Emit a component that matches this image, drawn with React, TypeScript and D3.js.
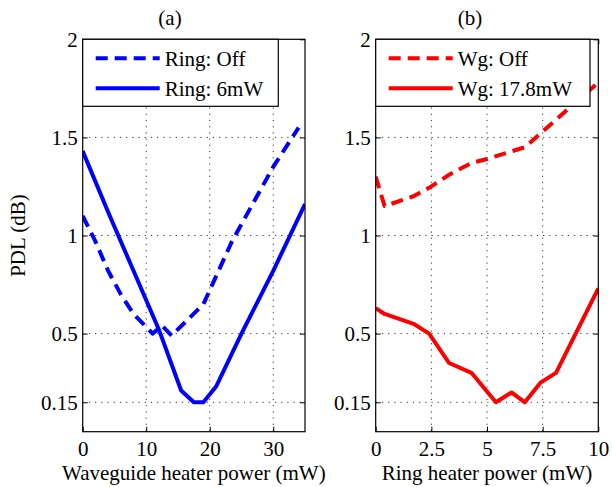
import React, { useEffect, useRef } from "react";
import * as d3 from "d3";

// (a) waveguide heater sweep
const ringOffX = [0, 2, 4, 6, 8, 11, 12.5, 14, 19, 23.5, 30, 34];
const ringOffPDL = [1.1, 0.97, 0.82, 0.7, 0.6, 0.5, 0.54, 0.49, 0.65, 0.97, 1.35, 1.55];
const ringOnX = [0, 4, 8, 12, 15.5, 17.5, 19, 21, 25, 30, 35];
const ringOnPDL = [1.43, 1.12, 0.82, 0.52, 0.21, 0.15, 0.15, 0.23, 0.5, 0.82, 1.16];

// (b) ring heater sweep
const wgOffX = [0, 0.4, 1.7, 2.5, 3.3, 4.3, 5, 6.7, 7.5, 8.7, 10];
const wgOffPDL = [1.3, 1.15, 1.2, 1.25, 1.31, 1.37, 1.39, 1.45, 1.53, 1.65, 1.78];
const wgOnX = [0, 0.4, 1.7, 2.4, 3.3, 4.3, 5.4, 6.1, 6.7, 7.4, 8.1, 10];
const wgOnPDL = [0.63, 0.6, 0.55, 0.5, 0.35, 0.3, 0.15, 0.2, 0.15, 0.25, 0.3, 0.73];

const yTicks = [0.15, 0.5, 1, 1.5, 2];
const xTicksA = [0, 10, 20, 30];
const xTicksB = [0, 2.5, 5, 7.5, 10];

const FONT = "'Liberation Serif', 'Times New Roman', serif";
const FS = 21;

type Series = { xs: number[]; ys: number[]; label: string; dashed: boolean };

const drawPanel = (svg, opts) => {
  const { left, right, top, bottom, xDomain, xTicks, title, titleX, xLabel, color, series, legendW, id } = opts;

  const x = d3.scaleLinear().domain(xDomain).range([left, right]);
  const y = d3.scaleLinear().domain([0, 2]).range([bottom, top]);

  const g = svg.append("g");

  g.append("clipPath").attr("id", id).append("rect")
    .attr("x", left).attr("y", top)
    .attr("width", right - left).attr("height", bottom - top);

  // dotted grid
  g.selectAll(".vgrid")
    .data(xTicks.filter(t => t > xDomain[0] && t < xDomain[1]))
    .enter().append("line")
    .attr("x1", d => x(d)).attr("x2", d => x(d))
    .attr("y1", top).attr("y2", bottom)
    .attr("stroke", "#333").attr("stroke-width", 1)
    .attr("stroke-dasharray", "1.2,5");
  g.selectAll(".hgrid")
    .data(yTicks.filter(t => t > 0 && t < 2))
    .enter().append("line")
    .attr("x1", left).attr("x2", right)
    .attr("y1", d => y(d)).attr("y2", d => y(d))
    .attr("stroke", "#333").attr("stroke-width", 1)
    .attr("stroke-dasharray", "1.2,5");

  // axes, ticks inside like matlab
  const styleAxis = sel => {
    sel.select(".domain").remove();
    sel.selectAll("line").attr("stroke", "#000");
    sel.selectAll("text").attr("font-family", FONT).attr("font-size", FS).attr("fill", "#000");
  };
  g.append("g").attr("transform", `translate(0,${bottom})`)
    .call(d3.axisBottom(x).tickValues(xTicks).tickSizeInner(-5).tickSizeOuter(0).tickPadding(9).tickFormat(d => String(d)))
    .call(styleAxis);
  g.append("g").attr("transform", `translate(0,${top})`)
    .call(d3.axisTop(x).tickValues(xTicks).tickSizeInner(-5).tickSizeOuter(0).tickFormat(() => ""))
    .call(styleAxis);
  g.append("g").attr("transform", `translate(${left},0)`)
    .call(d3.axisLeft(y).tickValues(yTicks).tickSizeInner(-5).tickSizeOuter(0).tickPadding(5).tickFormat(d => String(d)))
    .call(styleAxis);
  g.append("g").attr("transform", `translate(${right},0)`)
    .call(d3.axisRight(y).tickValues(yTicks).tickSizeInner(-5).tickSizeOuter(0).tickFormat(() => ""))
    .call(styleAxis);

  // data lines
  const line = d3.line<[number, number]>().x(d => x(d[0])).y(d => y(d[1]));
  series.forEach((s: Series) => {
    g.append("path")
      .datum(s.xs.map((v, i) => [v, s.ys[i]] as [number, number]))
      .attr("d", line)
      .attr("fill", "none")
      .attr("stroke", color)
      .attr("stroke-width", 4)
      .attr("stroke-linejoin", "round")
      .attr("stroke-dasharray", s.dashed ? "12,7" : null)
      .attr("clip-path", `url(#${id})`);
  });

  // box
  g.append("rect")
    .attr("x", left).attr("y", top)
    .attr("width", right - left).attr("height", bottom - top)
    .attr("fill", "none").attr("stroke", "#000").attr("stroke-width", 1.2);

  // legend
  const lg = g.append("g");
  lg.append("rect")
    .attr("x", left).attr("y", top)
    .attr("width", legendW).attr("height", 67)
    .attr("fill", "#fff").attr("stroke", "#000").attr("stroke-width", 1.2);
  series.forEach((s: Series, i) => {
    const ly = top + 19 + i * 30;
    lg.append("line")
      .attr("x1", left + 13).attr("x2", left + 77)
      .attr("y1", ly).attr("y2", ly)
      .attr("stroke", color).attr("stroke-width", 4)
      .attr("stroke-dasharray", s.dashed ? "12,7" : null);
    lg.append("text")
      .attr("x", left + 82).attr("y", ly + 7.5)
      .attr("font-family", FONT).attr("font-size", FS)
      .text(s.label);
  });

  // title and x label
  g.append("text")
    .attr("x", titleX).attr("y", 25)
    .attr("text-anchor", "middle")
    .attr("font-family", FONT).attr("font-size", FS)
    .text(title);
  g.append("text")
    .attr("x", (left + right) / 2).attr("y", 480)
    .attr("text-anchor", "middle")
    .attr("font-family", FONT).attr("font-size", FS)
    .text(xLabel);
};

const App = () => {
  const ref = useRef<SVGSVGElement>(null);

  useEffect(() => {
    const svg = d3.select(ref.current);
    svg.selectAll("*").remove();

    drawPanel(svg, {
      id: "clipA",
      left: 82.7, right: 305, top: 39.3, bottom: 431.7,
      xDomain: [0, 35], xTicks: xTicksA,
      title: "(a)", titleX: 170,
      xLabel: "Waveguide heater power (mW)",
      color: "#0000ff", legendW: 195.6,
      series: [
        { xs: ringOffX, ys: ringOffPDL, label: "Ring: Off", dashed: true },
        { xs: ringOnX, ys: ringOnPDL, label: "Ring: 6mW", dashed: false },
      ],
    });

    drawPanel(svg, {
      id: "clipB",
      left: 375.7, right: 598.3, top: 39.3, bottom: 431.7,
      xDomain: [0, 10], xTicks: xTicksB,
      title: "(b)", titleX: 470,
      xLabel: "Ring heater power (mW)",
      color: "#ff0000", legendW: 214.3,
      series: [
        { xs: wgOffX, ys: wgOffPDL, label: "Wg: Off", dashed: true },
        { xs: wgOnX, ys: wgOnPDL, label: "Wg: 17.8mW", dashed: false },
      ],
    });

    svg.append("text")
      .attr("transform", "translate(25,235.5) rotate(-90)")
      .attr("text-anchor", "middle")
      .attr("font-family", FONT).attr("font-size", FS)
      .text("PDL (dB)");
  }, []);

  return (
    <svg ref={ref} width={612} height={487}
      style={{ position: "absolute", left: 0, top: 0, background: "#fff" }} />
  );
};

export default App;
